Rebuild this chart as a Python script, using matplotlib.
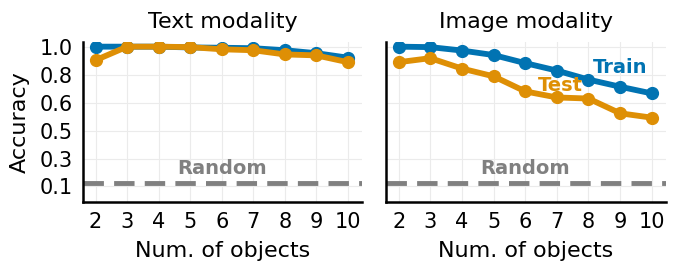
import numpy as np
import matplotlib.pyplot as plt

n_objects = [2, 3, 4, 5, 6, 7, 8, 9, 10]

text_train = [1.0, 1.0, 1.0, 0.995, 0.993, 0.99, 0.977, 0.958, 0.929]
text_test = [0.913, 1.0, 1.0, 0.997, 0.983, 0.977, 0.95, 0.944, 0.90]

image_train = [1.0, 0.997, 0.975, 0.946, 0.894, 0.846, 0.788, 0.742, 0.699]
image_test = [0.90, 0.926, 0.859, 0.809, 0.712, 0.673, 0.666, 0.571, 0.543]

random_acc = 0.125

blue = "#0173b2"
orange = "#de8f05"
gray = "#808080"

fig = plt.figure(figsize=(6.74, 2.73), dpi=100)
ax1 = fig.add_axes([83/674, 71/273, 279/674, 160/273])
ax2 = fig.add_axes([386/674, 71/273, 280/674, 160/273])

panels = [(ax1, "Text modality", text_train, text_test),
          (ax2, "Image modality", image_train, image_test)]

yt = np.linspace(0.1, 1.0, 6)
for ax, title, tr, te in panels:
    ax.plot(n_objects, tr, color=blue, lw=4.2, marker="o", ms=8.5, zorder=3)
    ax.plot(n_objects, te, color=orange, lw=4.2, marker="o", ms=8.5, zorder=4)
    ax.axhline(random_acc, color=gray, lw=3.5, ls=(0, (4.2, 2.1)), zorder=2)
    ax.text(6, 0.215, "Random", color=gray, fontsize=14, fontweight="bold",
            ha="center", va="center")
    ax.set_xlim(1.6, 10.45)
    ax.set_ylim(0.0, 1.03)
    ax.set_xticks(n_objects)
    ax.set_yticks(yt)
    ax.set_yticklabels(["%.1f" % v for v in yt])
    ax.grid(True, color="#ebebeb", lw=0.8)
    ax.set_axisbelow(True)
    for s in ["top", "right"]:
        ax.spines[s].set_visible(False)
    for s in ["left", "bottom"]:
        ax.spines[s].set_linewidth(1.8)
    ax.tick_params(length=0, labelsize=15, pad=7.5)
    ax.set_title(title, fontsize=16, pad=10)
    ax.set_xlabel("Num. of objects", fontsize=16, labelpad=6)

ax1.set_ylabel("Accuracy", fontsize=16, labelpad=7)
ax2.tick_params(labelleft=False)
ax2.text(9.0, 0.866, "Train", color=blue, fontsize=14, fontweight="bold",
         ha="center", va="center")
ax2.text(7.1, 0.75, "Test", color=orange, fontsize=14, fontweight="bold",
         ha="center", va="center")

fig.savefig("out.png", dpi=100)
